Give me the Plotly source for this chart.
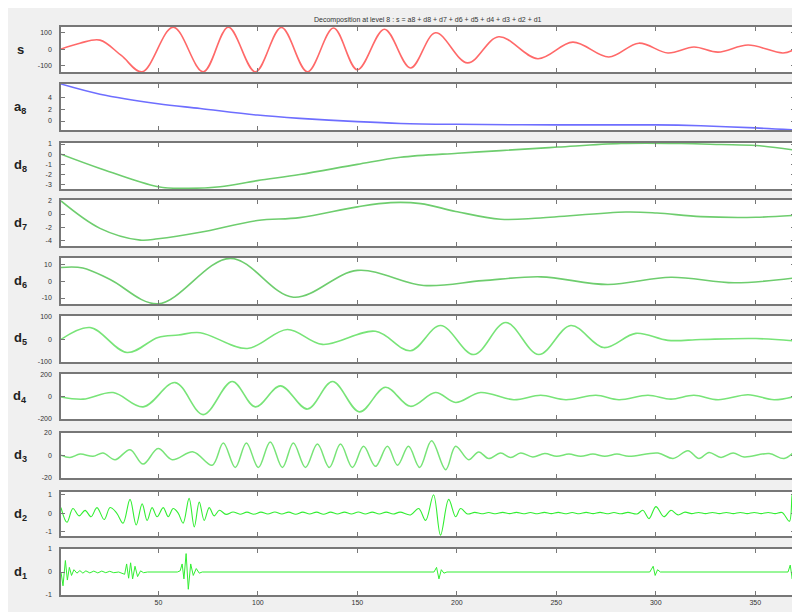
import plotly.graph_objects as go

# ---------------- data ----------------
X_RANGE = [1, 370]
X_TICKS = [50, 100, 150, 200, 250, 300, 350]
X_TICK_LABELS = ["50", "100", "150", "200", "250", "300", "350"]

TITLE = "Decomposition at level 8 : s = a8 + d8 + d7 + d6 + d5 + d4 + d3 + d2 + d1"
PANEL_LABELS = ["<b>s</b>", "<b>a</b><sub><b>8</b></sub>", "<b>d</b><sub><b>8</b></sub>",
                "<b>d</b><sub><b>7</b></sub>", "<b>d</b><sub><b>6</b></sub>", "<b>d</b><sub><b>5</b></sub>",
                "<b>d</b><sub><b>4</b></sub>", "<b>d</b><sub><b>3</b></sub>", "<b>d</b><sub><b>2</b></sub>",
                "<b>d</b><sub><b>1</b></sub>"]

s_x = [1, 10.5, 20.6, 31.3, 41.8, 57.4, 72.5, 85.1, 98.7, 111.8, 124.9, 138.0, 150.0, 163.6,
       176.7, 189.3, 205.4, 221.0, 240.7, 258.3, 276.4, 291.5, 306.1, 319.2, 331.3, 346.4, 364.0, 370]
s_y = [0, 35, 53, -38, -135, 130, -135, 130, -135, 128, -135, 125, -123, 118,
       -112, 97, -82, 73, -57, 41, -47, 35, -23, 12, -18, 24, -23, 0]
s_ticks = [-100, 0, 100]

a8_x = [1, 20.6, 49.8, 71, 99.7, 121, 150, 171.7, 200, 250, 300, 322.7, 350, 370]
a8_y = [6.2, 4.5, 2.9, 2.1, 1.0, 0.45, -0.1, -0.4, -0.55, -0.65, -0.65, -0.8, -1.15, -1.5]
a8_ticks = [0, 2, 4]

d8_x = [1, 20.6, 49.8, 64.4, 81, 99.7, 121, 150, 171.7, 200.4, 222, 250.7, 282.5, 312.7, 332.8, 350.4, 370]
d8_y = [0, -1.4, -3.2, -3.35, -3.2, -2.6, -2.0, -1.0, -0.3, 0.1, 0.35, 0.7, 1.05, 1.05, 0.95, 0.85, 0.4]
d8_ticks = [-3, -2, -1, 0, 1]

d7_x = [1, 20.6, 40.8, 49.8, 71, 99.7, 121, 150, 166.7, 181.8, 199.4, 222, 242, 285, 300.6, 322.7, 350.4, 370]
d7_y = [2.0, -2.2, -4.0, -3.8, -2.8, -1.0, -0.55, 1.1, 1.75, 1.6, 0.4, -0.8, -0.6, 0.3, 0.15, -0.4, -0.5, -0.2]
d7_ticks = [-4, -2, 0, 2]

d6_x = [1, 12, 25.7, 49.8, 86.1, 117.8, 150, 183.3, 213, 242.2, 275.9, 307.6, 339.4, 370]
d6_y = [8.5, 8.2, 1.2, -13.5, 14.0, -9.5, 6.7, -2.4, 0.5, 2.8, -1.8, 2.6, -0.8, 2.2]
d6_ticks = [-10, 0, 10]

d5_x = [1, 15.6, 34.2, 49.8, 60, 71, 94.7, 114.8, 132.4, 159.1, 176.7, 191.8, 208.5, 224.6,
        241.2, 257.3, 273.9, 290.0, 306.1, 322.7, 350.4, 370]
d5_y = [0, 53, -58, 9, 20, 30, -40, 44, -22, 36, -50, 62, -67, 75,
        -67, 62, -36, 27, -4, 0, 4, -7]
d5_ticks = [-100, 0, 100]

d4_x = [1, 12.1, 27.2, 42.3, 58.4, 72.5, 87.1, 98.7, 111.3, 124.9, 137.5, 151.1, 164.1, 176.7,
        189.3, 199.4, 211.9, 228.6, 242.2, 254.8, 269.9, 281.5, 296.1, 307.6, 319.2, 331.3,
        346.4, 359.5, 370]
d4_y = [0, -20, 40, -90, 130, -160, 140, -90, 100, -110, 140, -135, 88, -85,
        40, -50, 40, -25, 15, -25, 15, -25, 15, -20, 15, -25,
        20, -25, 5]
d4_ticks = [-200, 0, 200]

d3_x = [1, 5.5, 10.6, 17.1, 22.1, 28.2, 35.7, 42.3, 49.8, 56.9,
        67.5, 77.0, 82.6, 88.6, 94.2, 100.2, 106.2, 112.3, 117.8, 123.9,
        129.9, 135.9, 141.5, 147.5, 153.1, 159.1, 165.1, 170.2, 175.7, 181.3,
        187.3, 194.4, 199.4, 205.9, 211.0, 216.0, 222.0, 227.1, 232.1, 238.2,
        244.2, 250.2, 256.3, 262.3, 268.4, 274.4, 280.5, 286.5, 301.1, 308.7,
        316.2, 321.7, 326.8, 332.8, 338.9, 344.4, 357.0, 364.5, 370]
d3_y = [0, -2, 1, -1, 2, -4, 5, -8, 6, -4,
        3, -9, 11, -11, 11, -11, 12, -11, 11, -11,
        10, -11, 10, -11, 8, -10, 8, -9, 8, -11,
        13, -13, 8, -4, 3, -3, 2, -2, 2, -1.5,
        1.5, -1, 1, -1, 1, -1, 1, -1, 2, -3,
        4, -3, 2.5, -2, 2, -1.5, 1.5, -3, 4]
d3_ticks = [-20, 0, 20]

d2_x = [1, 4.0, 7.0, 10.1, 13.1, 16.1, 19.1, 22.7, 25.7, 29.0, 32.2, 35.7, 38.8, 41.8, 44.3,
        46.8, 49.3, 52.4, 54.9, 57.4, 59.9, 62.4, 65.4, 68.0, 70.5, 73.0, 75.5, 78.0, 80.6,
        84, 87.5, 91, 94.5, 98, 101.5, 105, 108.5, 112, 115.5, 119, 122.5, 126, 129.5, 133,
        136.5, 140, 143.5, 147, 150.5, 154, 157.5, 161, 164.5, 168, 171.5,
        176.7, 180.8, 184.3, 188.3, 191.8, 195.9, 199.4, 201.9, 205.4,
        209, 212.5, 216, 219.5, 223, 226.5, 230, 233.5, 237, 240.5, 244, 247.5, 251, 254.5,
        258, 261.5, 265, 268.5, 272, 275.5, 279, 282.5, 286,
        290.6, 293.5, 296.6, 300.1, 304.1, 307.6, 311.2, 314.7,
        318, 321.5, 325, 328.5, 332, 335.5, 339, 342.5, 346, 349.5, 353, 356.5, 360, 363.5,
        367.2, 368.6, 370]
d2_y = [0.3, -0.5, 0.25, -0.15, 0.15, -0.2, 0.3, -0.35, 0.3, 0.0, -0.55, 0.75, -0.65, 0.5, -0.4,
        0.3, -0.2, 0.3, -0.2, 0.25, 0.0, -0.55, 0.8, -0.75, 0.6, -0.4, 0.3, -0.15, 0.15,
        -0.07, 0.06, -0.06, 0.05, -0.06, 0.05, -0.05, 0.06, -0.05, 0.05, -0.06, 0.05, -0.05, 0.05, -0.06,
        0.05, -0.05, 0.05, -0.05, 0.06, -0.05, 0.05, -0.05, 0.05, -0.05, 0.05,
        -0.1, 0.25, -0.4, 1.0, -1.2, 0.75, -0.2, 0.25, -0.05,
        0.04, -0.04, 0.03, -0.04, 0.04, -0.03, 0.04, -0.04, 0.03, -0.04, 0.04, -0.03, 0.04, -0.04,
        0.03, -0.04, 0.04, -0.03, 0.04, -0.04, 0.03, -0.04, 0.04,
        -0.05, 0.15, -0.3, 0.35, -0.2, 0.15, -0.1, 0.05,
        -0.03, 0.03, -0.03, 0.03, -0.03, 0.03, -0.03, 0.03, -0.03, 0.03, -0.03, 0.03, -0.03, 0.03,
        -0.45, 1.05, 0.0]
d2_ticks = [-1, 0, 1]

d1_x = [1, 2.0, 3.2, 4.2, 5.2, 6.3, 7.5, 9.0, 10.5, 12.0,
        13.5, 15.5, 17.5, 19.5, 21.5, 23.5, 25.5, 27.5, 30.0, 33.0,
        34.0, 35.0, 36.0, 37.0, 38.2, 39.5, 41.0, 42.5, 44.5, 59.5,
        60.9, 61.9, 62.8, 63.9, 65.0, 66.2, 67.5, 69.0, 70.5, 72.0,
        188.5, 189.8, 191.0, 192.2, 193.5, 195.0, 297.0, 298.7, 299.7, 300.9,
        302.3, 366.5, 367.6, 368.6, 369.6, 370]
d1_y = [0, -0.6, 0.5, -0.35, 0.2, -0.15, 0.1, -0.05, 0.06, -0.05,
        0.05, -0.04, 0.04, -0.04, 0.04, -0.03, 0.03, -0.03, 0.0, -0.1,
        0.35, -0.27, 0.4, -0.3, 0.25, -0.2, 0.05, -0.03, 0.0, 0.0,
        0.05, 0.35, -0.3, 0.8, -0.75, 0.35, -0.15, 0.15, -0.05, 0.0,
        0.0, 0.2, -0.3, 0.1, -0.05, 0.0, 0.0, 0.25, -0.15, 0.1,
        0.0, 0.0, 0.3, -0.3, 0.5, -0.9]
d1_ticks = [-1, 0, 1]

# ---------------- styling / layout ----------------
# The page body has an 8px margin, so the figure itself starts at (8, 8) in the window.
OFF = 8
W, H = 800 - OFF, 612 - OFF
# plot-area edges measured in window pixels
PL, PR, PT, PB = 61, 795, 27, 595
ML, MR, MT, MB = PL - OFF, W - (PR - OFF), PT - OFF, H - (PB - OFF)
PW, PH = W - ML - MR, H - MT - MB

# panel (top, bottom) in window pixels
PANELS_PX = [(27, 72), (84, 130), (143, 189), (200, 246), (258, 304),
             (316, 362), (374, 419), (433, 478), (492, 536), (549, 595)]
Y_RANGES = [[-136, 131], [-1.5, 6.2], [-3.42, 1.1], [-4.9, 2.15], [-13.6, 14.2],
            [-100, 104], [-200, 208], [-20.5, 20], [-1.25, 1.15], [-1, 1]]

RED = "rgb(255,105,105)"
BLUE = "rgb(110,110,255)"
G1 = "rgb(110,205,110)"
G2 = "rgb(120,228,120)"
G3 = "rgb(50,238,50)"

series = [
    (s_x, s_y, s_ticks, RED, 1.6, "spline"),
    (a8_x, a8_y, a8_ticks, BLUE, 1.6, "spline"),
    (d8_x, d8_y, d8_ticks, G1, 1.6, "spline"),
    (d7_x, d7_y, d7_ticks, G1, 1.6, "spline"),
    (d6_x, d6_y, d6_ticks, G1, 1.6, "spline"),
    (d5_x, d5_y, d5_ticks, G2, 1.6, "spline"),
    (d4_x, d4_y, d4_ticks, G2, 1.6, "spline"),
    (d3_x, d3_y, d3_ticks, G2, 1.5, "spline"),
    (d2_x, d2_y, d2_ticks, G3, 1.1, "spline"),
    (d1_x, d1_y, d1_ticks, G3, 1.0, "linear"),
]

FONT = "Liberation Sans, Arial, sans-serif"
AXIS_COLOR = "#777777"


def win_y_to_paper(py):
    return (PB - py) / PH


def win_x_to_paper(px):
    return (px - PL) / PW


fig = go.Figure()
layout = dict(
    width=W, height=H,
    margin=dict(l=ML, r=MR, t=MT, b=MB, autoexpand=False),
    paper_bgcolor="#f0f0f0",
    plot_bgcolor="white",
    showlegend=False,
    font=dict(family=FONT, size=7, color="#333333"),
)

annotations = []
n = len(series)
for i, (xs, ys, ticks, color, lw, shape) in enumerate(series):
    k = i + 1
    xa = "x" if k == 1 else f"x{k}"
    ya = "y" if k == 1 else f"y{k}"
    fig.add_trace(go.Scatter(x=xs, y=ys, mode="lines", xaxis=xa, yaxis=ya,
                             line=dict(color=color, width=lw, shape=shape, smoothing=1.0),
                             hoverinfo="skip"))
    top, bot = PANELS_PX[i]
    dom = [win_y_to_paper(bot), win_y_to_paper(top)]
    xkey = "xaxis" if k == 1 else f"xaxis{k}"
    ykey = "yaxis" if k == 1 else f"yaxis{k}"
    layout[xkey] = dict(
        domain=[0, 1], anchor=ya, range=X_RANGE,
        tickmode="array", tickvals=X_TICKS, ticktext=X_TICK_LABELS,
        showticklabels=(k == n), ticks="inside", ticklen=4, tickwidth=1,
        tickcolor=AXIS_COLOR, showline=True, linecolor=AXIS_COLOR, linewidth=1.5,
        mirror="ticks", showgrid=False, zeroline=False,
        tickfont=dict(size=7, color="#333333"),
    )
    layout[ykey] = dict(
        domain=dom, anchor=xa, range=Y_RANGES[i],
        tickmode="array", tickvals=ticks, ticktext=[str(t) for t in ticks],
        ticks="inside", ticklen=4, tickwidth=1, tickcolor=AXIS_COLOR,
        showline=True, linecolor=AXIS_COLOR, linewidth=1.5, mirror="ticks",
        showgrid=False, zeroline=False, ticklabelstandoff=6,
        tickfont=dict(size=7, color="#333333"),
    )
    annotations.append(dict(
        text=PANEL_LABELS[i], xref="paper", yref="paper",
        x=win_x_to_paper(20), y=(dom[0] + dom[1]) / 2, xanchor="center", yanchor="middle",
        showarrow=False, font=dict(size=13, color="#222222", family=FONT),
    ))

annotations.append(dict(
    text=TITLE, xref="paper", yref="paper", x=0.5, y=win_y_to_paper(20),
    xanchor="center", yanchor="middle", showarrow=False,
    font=dict(size=7, color="#333333", family=FONT),
))
layout["annotations"] = annotations

fig.update_layout(**layout)
fig.write_html("out.html")
